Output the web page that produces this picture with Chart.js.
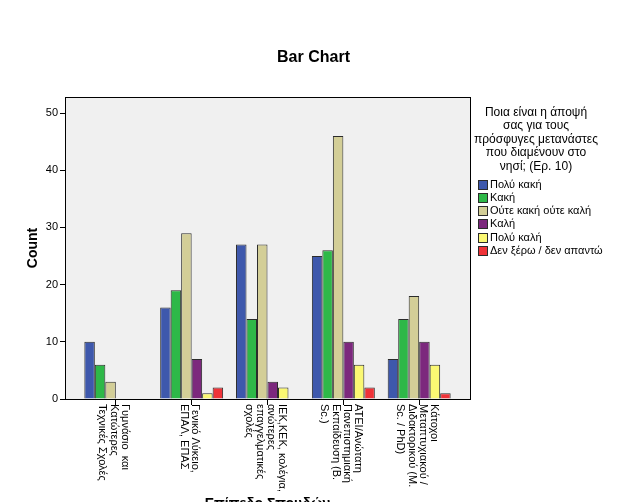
<!DOCTYPE html>
<html>
<head>
<meta charset="utf-8">
<script src="https://cdn.jsdelivr.net/npm/chart.js@4/dist/chart.umd.min.js"></script>
<style>
  html, body { margin: 0; padding: 0; background: #fff; }
  #wrap { width: 627px; height: 502px; }
</style>
</head>
<body>
<div id="wrap"><canvas id="BarChart" width="627" height="502"></canvas></div>
<script>
// categories (each one split into the lines it is printed in)
var categories = [
    ["Γυμνάσιο  και", "Κατώτερες", "Τεχνικές Σχολές"],
    ["Γενικό Λύκειο,", "ΕΠΑΛ, ΕΠΑΣ"],
    ["ΙΕΚ,ΚΕΚ, κολέγια,", "ανώτερες", "επαγγελματικές", "σχολές"],
    ["ΑΤΕΙ/Ανώτατη", "Πανεπιστημιακή", "Εκπαίδευση (Β.", "Sc.)"],
    ["Κάτοχοι", "Μεταπτυχιακού /", "Διδακτορικού (Μ.", "Sc. / PhD)"]
];
var seriesNames = ["Πολύ κακή", "Κακή", "Ούτε κακή ούτε καλή", "Καλή", "Πολύ καλή", "Δεν ξέρω / δεν απαντώ"];
var seriesColors = ["#3e58ac", "#2eb848", "#d3ce97", "#7c287d", "#fbf873", "#ef3338"];

var polyKaki  = [10, 16, 27, 25, 7];
var kaki      = [6, 19, 14, 26, 14];
var outeOute  = [3, 29, 27, 46, 18];
var kali      = [0, 7, 3, 10, 10];
var polyKali  = [0, 1, 2, 6, 6];
var denXero   = [0, 2, 0, 2, 1];

var yTicks = [0, 10, 20, 30, 40, 50];
var chartTitle = "Bar Chart";
var legendTitle = ["Ποια είναι η άποψή", "σας για τους", "πρόσφυγες μετανάστες", "που διαμένουν στο", "νησί; (Ερ. 10)"];
var xTitle = "Επίπεδο Σπουδών";

var FONT = "'Liberation Sans', Arial, sans-serif";
Chart.defaults.font.family = FONT;
Chart.defaults.color = "#000";

var allSeries = [polyKaki, kaki, outeOute, kali, polyKali, denXero];
var datasets = allSeries.map(function(vals, s) {
    return {
        label: seriesNames[s],
        data: vals.map(function(v, i) { return { x: i + 1, y: v }; }),
        backgroundColor: seriesColors[s],
        borderColor: "#2b2b2b",
        borderWidth: 1,
        categoryPercentage: 0.83,
        barPercentage: 1
    };
});

var spssDecor = {
    id: "spssDecor",
    beforeDraw: function(chart) {
        var ctx = chart.ctx, a = chart.chartArea;
        ctx.save();
        ctx.fillStyle = "#fff";
        ctx.fillRect(0, 0, chart.width, chart.height);
        ctx.fillStyle = "#f0f0f0";
        ctx.fillRect(a.left, a.top, a.right - a.left, a.bottom - a.top);
        ctx.restore();
    },
    afterDraw: function(chart) {
        var ctx = chart.ctx, a = chart.chartArea;
        var xs = chart.scales.x;
        ctx.save();
        // plot frame
        ctx.strokeStyle = "#000";
        ctx.lineWidth = 1;
        ctx.strokeRect(Math.round(a.left) + 0.5, Math.round(a.top) + 0.5,
            Math.round(a.right - a.left), Math.round(a.bottom - a.top));

        // chart title, centred on the whole canvas
        ctx.fillStyle = "#000";
        ctx.font = "bold 16px " + FONT;
        ctx.textAlign = "center";
        ctx.textBaseline = "middle";
        ctx.fillText(chartTitle, 313.5, 58);

        // rotated category labels (clockwise, read top to bottom)
        ctx.font = "11px " + FONT;
        ctx.textAlign = "left";
        ctx.textBaseline = "middle";
        var lh = 11.3;
        categories.forEach(function(lines, i) {
            var px = xs.getPixelForValue(i + 1) - 2;
            ctx.save();
            ctx.translate(px, a.bottom + 5);
            ctx.rotate(Math.PI / 2);
            lines.forEach(function(t, j) {
                ctx.fillText(t, 0, j * lh - (lines.length - 1) / 2 * lh);
            });
            ctx.restore();
        });

        // x axis title (cut by the bottom edge)
        ctx.font = "bold 14px " + FONT;
        ctx.textAlign = "center";
        ctx.textBaseline = "top";
        ctx.fillText(xTitle, (a.left + a.right) / 2, 497.5);

        // legend
        ctx.font = "12px " + FONT;
        ctx.textAlign = "center";
        ctx.textBaseline = "middle";
        legendTitle.forEach(function(t, j) {
            ctx.fillText(t, 536, 112.5 + j * 13.5);
        });
        ctx.font = "11px " + FONT;
        ctx.textAlign = "left";
        seriesNames.forEach(function(n, s) {
            var y = 184 + s * 13.3;
            ctx.fillStyle = seriesColors[s];
            ctx.fillRect(478.5, Math.round(y - 4.5) + 0.5, 9, 9);
            ctx.strokeStyle = "#2b2b2b";
            ctx.strokeRect(478.5, Math.round(y - 4.5) + 0.5, 9, 9);
            ctx.fillStyle = "#000";
            ctx.fillText(n, 490, y + 0.5);
        });
        ctx.restore();
    }
};

var chart = new Chart(document.getElementById("BarChart"), {
    type: "bar",
    data: { datasets: datasets },
    plugins: [spssDecor],
    options: {
        responsive: false,
        animation: false,
        layout: { padding: { left: 0, right: 157, top: 97, bottom: 0 } },
        plugins: {
            legend: { display: false },
            tooltip: { enabled: false },
            title: { display: false }
        },
        scales: {
            x: {
                type: "linear",
                offset: false,
                min: 0.33,
                max: 5.67,
                afterBuildTicks: function(s) {
                    s.ticks = categories.map(function(c, i) { return { value: i + 1 }; });
                },
                afterFit: function(s) { s.height = 103; },
                ticks: { display: false },
                grid: { offset: false, drawOnChartArea: false, drawTicks: true, tickLength: 6, tickColor: "#000", color: "#000" },
                border: { display: true, color: "#000" }
            },
            y: {
                min: 0,
                max: 52.8,
                afterBuildTicks: function(s) {
                    s.ticks = yTicks.map(function(v) { return { value: v }; });
                },
                afterFit: function(s) { s.width = 65; },
                ticks: { font: { size: 11 }, color: "#000", padding: 2 },
                grid: { drawOnChartArea: false, drawTicks: true, tickLength: 5, tickColor: "#000" },
                border: { display: true, color: "#000" },
                title: {
                    display: true,
                    text: "Count",
                    color: "#000",
                    font: { size: 14, weight: "bold" },
                    padding: { top: 25, bottom: 0 }
                }
            }
        }
    }
});
</script>
</body>
</html>
